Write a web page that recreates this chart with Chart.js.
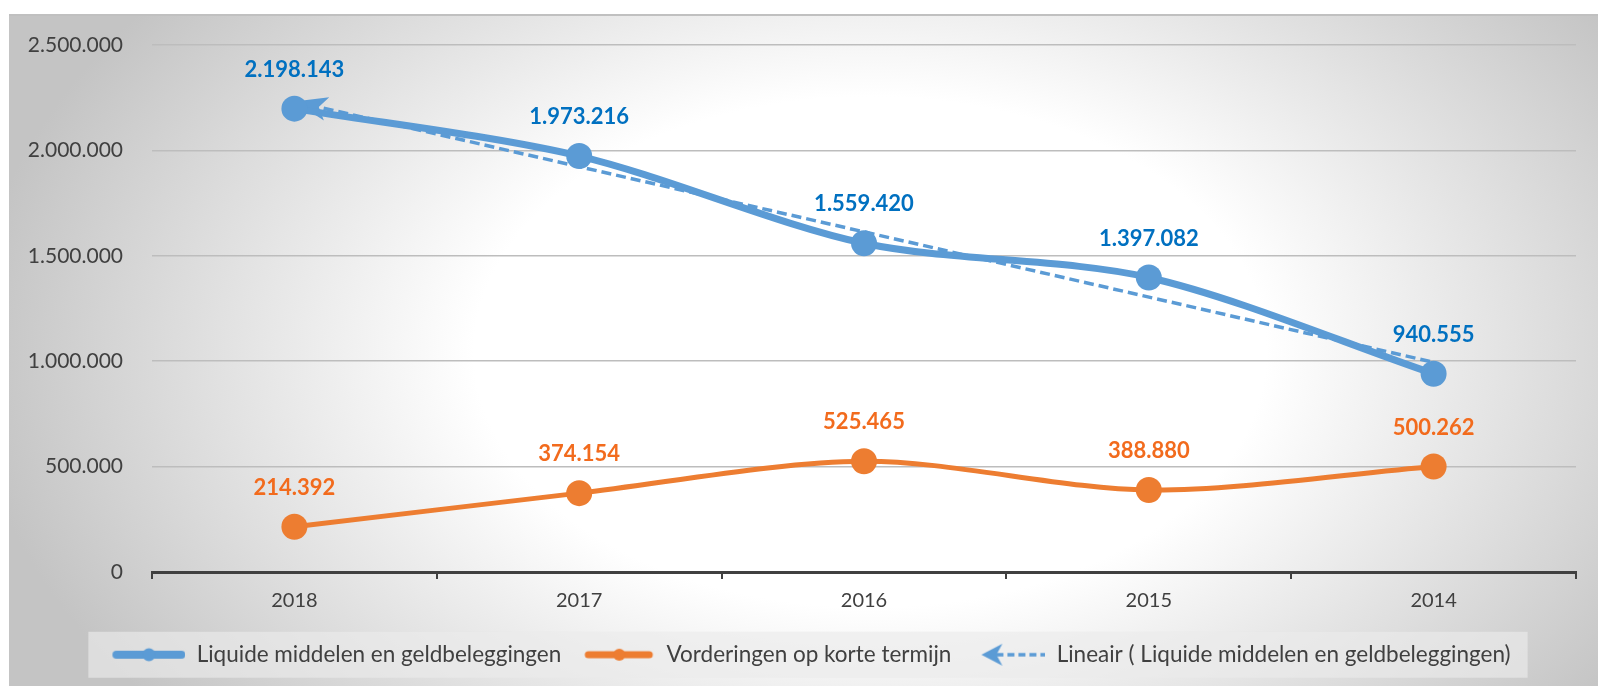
<!DOCTYPE html>
<html>
<head>
<meta charset="utf-8">
<script src="https://cdn.jsdelivr.net/npm/chart.js@4.4.1/dist/chart.umd.min.js"></script>
<style>
  html, body { margin: 0; padding: 0; background: #fff; }
  body { width: 1598px; height: 686px; position: relative; overflow: hidden; }
  #bg {
    position: absolute; left: 9px; top: 14px; width: 1589px; height: 672px;
    box-sizing: border-box; border-top: 2px solid #c0c0c0;
    background: radial-gradient(ellipse 900px 580px at 861px 336px, #ffffff 0%, #ffffff 44%, #c4c4c4 100%);
  }
  #wrap { position: absolute; left: 0; top: 0; width: 1598px; height: 686px; }
</style>
</head>
<body>
<div id="bg"></div>
<div id="wrap"><canvas id="chart" width="1598" height="686"></canvas></div>
<script>
// data
const categories = ['2018', '2017', '2016', '2015', '2014'];
const liquide = [2198143, 1973216, 1559420, 1397082, 940555];
const vorderingen = [214392, 374154, 525465, 388880, 500262];
// linear trend of liquide (start and end of the dashed line)
const trendLiquide = [2232000, null, null, null, 995000];
const yMin = 0, yMax = 2500000, yStep = 500000;

const seriesNames = [
  'Liquide middelen en geldbeleggingen',
  'Vorderingen op korte termijn',
  'Lineair ( Liquide middelen en geldbeleggingen)'
];

const blue = '#5B9BD5';
const orange = '#ED7D31';
const blueLabel = '#0070C0';
const orangeLabel = '#F26B1D';
const textGrey = '#404040';
const FONT = 'Lato';
const LEGEND_SHIFT = 18;

function fmt(v) {
  return String(Math.round(v)).replace(/\B(?=(\d{3})+(?!\d))/g, '.');
}

function drawArrow(ctx, x, y, angle, len, half, notch, color) {
  ctx.save();
  ctx.translate(x, y);
  ctx.rotate(angle);
  ctx.fillStyle = color;
  ctx.beginPath();
  ctx.moveTo(0, 0);
  ctx.lineTo(len, -half);
  ctx.lineTo(len - notch, 0);
  ctx.lineTo(len, half);
  ctx.closePath();
  ctx.fill();
  ctx.restore();
}

// legend symbols
const SYM_W = 84, SYM_H = 26;
function symbol(draw) {
  const c = document.createElement('canvas');
  c.width = SYM_W; c.height = SYM_H;
  draw(c.getContext('2d'));
  return c;
}
const symBlue = symbol(ctx => {
  ctx.strokeStyle = blue; ctx.lineWidth = 8; ctx.lineCap = 'round';
  ctx.beginPath(); ctx.moveTo(15, 13); ctx.lineTo(80, 13); ctx.stroke();
  ctx.fillStyle = blue; ctx.beginPath(); ctx.arc(47.5, 13, 6.5, 0, Math.PI * 2); ctx.fill();
});
const symOrange = symbol(ctx => {
  ctx.strokeStyle = orange; ctx.lineWidth = 7; ctx.lineCap = 'round';
  ctx.beginPath(); ctx.moveTo(17, 13); ctx.lineTo(78, 13); ctx.stroke();
  ctx.fillStyle = orange; ctx.beginPath(); ctx.arc(48, 13, 6, 0, Math.PI * 2); ctx.fill();
});
const symTrend = symbol(ctx => {
  drawArrow(ctx, 20, 13, 0, 21, 11, 6, blue);
  ctx.strokeStyle = blue; ctx.lineWidth = 3.5; ctx.setLineDash([7, 4]);
  ctx.beginPath(); ctx.moveTo(35, 13); ctx.lineTo(84, 13); ctx.stroke();
});
const legendSymbols = [symBlue, symOrange, symTrend];

const extras = {
  id: 'extras',
  afterLayout(chart) {
    // the legend row sits a bit right of the canvas centre
    const lg = chart.legend;
    if (lg) { lg.left += LEGEND_SHIFT; lg.right += LEGEND_SHIFT; }
  },
  beforeDraw(chart) {
    const lg = chart.legend;
    if (!lg || !lg.legendHitBoxes.length) return;
    const boxes = lg.legendHitBoxes;
    const left = boxes[0].left - 13;
    const right = boxes[boxes.length - 1].left + boxes[boxes.length - 1].width + 17;
    const cy = boxes[0].top + boxes[0].height / 2;
    const ctx = chart.ctx;
    ctx.save();
    ctx.fillStyle = 'rgba(235,235,235,0.65)';
    ctx.fillRect(left, cy - 23, right - left, 46);
    ctx.restore();
  },
  afterDatasetDraw(chart, args) {
    if (args.index !== 2) return;
    const pts = args.meta.data;
    const a = pts[0], b = pts[pts.length - 1];
    const ang = Math.atan2(b.y - a.y, b.x - a.x);
    drawArrow(chart.ctx, a.x, a.y, ang, 33, 12, 8, blue);
  },
  afterDatasetsDraw(chart) {
    const ctx = chart.ctx;
    ctx.save();
    ctx.font = 'bold 22px ' + FONT;
    ctx.textAlign = 'center';
    ctx.textBaseline = 'middle';
    [[0, blueLabel], [1, orangeLabel]].forEach(([i, col]) => {
      const meta = chart.getDatasetMeta(i);
      ctx.fillStyle = col;
      meta.data.forEach((p, j) => {
        ctx.fillText(fmt(chart.data.datasets[i].data[j]), p.x, p.y - 39);
      });
    });
    ctx.restore();
  }
};

new Chart(document.getElementById('chart'), {
  type: 'line',
  data: {
    labels: categories,
    datasets: [
      {
        label: seriesNames[0], data: liquide,
        borderColor: blue, backgroundColor: blue, borderWidth: 7,
        pointRadius: 13, pointHoverRadius: 13, pointBorderWidth: 0,
        tension: 0.3
      },
      {
        label: seriesNames[1], data: vorderingen,
        borderColor: orange, backgroundColor: orange, borderWidth: 5,
        pointRadius: 13, pointHoverRadius: 13, pointBorderWidth: 0,
        tension: 0.3
      },
      {
        label: seriesNames[2], data: trendLiquide,
        borderColor: blue, backgroundColor: blue, borderWidth: 3.5,
        borderDash: [10, 5], pointRadius: 0, spanGaps: true, tension: 0
      }
    ]
  },
  options: {
    responsive: false,
    animation: false,
    layout: { padding: { left: 0, right: 22, top: 45, bottom: 10 } },
    scales: {
      x: {
        offset: true,
        border: { display: true, color: textGrey, width: 3 },
        grid: { offset: true, drawOnChartArea: false, drawTicks: true, tickLength: 7, color: textGrey, lineWidth: 2 },
        ticks: { color: textGrey, font: { family: FONT, size: 20 }, padding: 10 },
        afterFit(s) { s.height = 61.5; }
      },
      y: {
        min: yMin, max: yMax,
        border: { display: false },
        grid: { color: '#bdbdbd', lineWidth: 1.5, drawTicks: false },
        ticks: { stepSize: yStep, color: textGrey, font: { family: FONT, size: 21 }, padding: 29, callback: v => fmt(v) },
        afterFit(s) { s.width = 152; }
      }
    },
    plugins: {
      tooltip: { enabled: false },
      legend: {
        position: 'bottom',
        labels: {
          usePointStyle: true,
          pointStyleWidth: SYM_W,
          padding: 10,
          color: textGrey,
          font: { family: FONT, size: 22.5 },
          generateLabels(chart) {
            const items = Chart.defaults.plugins.legend.labels.generateLabels(chart);
            items.forEach((it, i) => { it.pointStyle = legendSymbols[i]; it.rotation = 0; });
            return items;
          }
        }
      }
    }
  },
  plugins: [extras]
});
</script>
</body>
</html>
